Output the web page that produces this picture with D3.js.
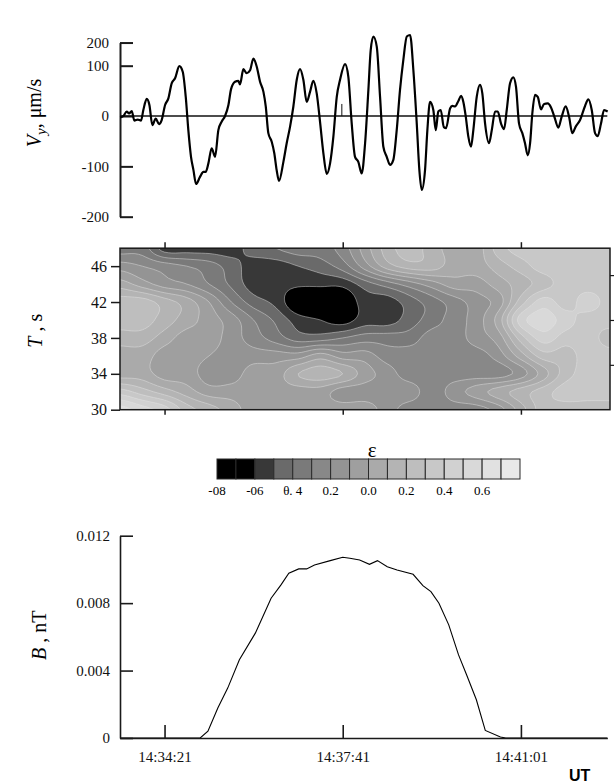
<!DOCTYPE html>
<html>
<head>
<meta charset="utf-8">
<script src="https://cdn.jsdelivr.net/npm/d3@7"></script>
<style>
  body { margin: 0; background: #fff; }
  .axis path, .axis line { stroke: #1a1a1a; }
  .axis text { fill: #111; }
</style>
</head>
<body>
<svg id="fig" width="615" height="783"></svg>
<script>
// time is in seconds relative to 14:34:21 UT
const tickTimes = [0, 200, 400];
const tickLabels = ['14:34:21', '14:37:41', '14:41:01'];

// --- Vy trace (µm/s)
const vyT = [-49.9, -46.2, -42.5, -39.8, -36.8, -33.9, -30.1, -26.4, -23.8, -20.0, -17.0, -13.7, -9.9, -6.2, -3.2,
  0.6, 4.3, 8.0, 11.8, 16.6, 20.4, 23.8, 26.7, 29.7, 32.4, 35.4, 39.8, 43.6, 46.2, 49.2, 52.9, 56.7, 60.4, 64.2,
  67.9, 71.7, 74.6, 79.1, 82.9, 84.7, 88.5, 92.2, 96.0, 99.7, 103.5, 107.2, 111.0, 113.6, 116.5, 120.3, 123.2,
  125.8, 128.5, 133.4, 137.1, 140.9, 144.6, 148.4, 152.1, 155.8, 159.6, 163.3, 167.0, 170.8, 174.5, 178.3, 182.1,
  185.8, 189.5, 193.3, 197.0, 202.6, 206.3, 210.1, 213.8, 217.5, 221.3, 225.1, 228.8, 231.4, 234.4, 238.2, 241.9,
  245.6, 249.4, 253.1, 256.8, 260.6, 264.3, 268.0, 271.9, 275.6, 279.3, 283.1, 286.0, 288.7, 292.4, 295.0, 298.0,
  301.7, 304.4, 307.3, 310.0, 313.5, 316.0, 320.5, 323.1, 326.1, 329.8, 332.8, 335.4, 338.1, 341.0, 344.0, 346.6,
  350.4, 354.1, 356.7, 359.8, 364.2, 367.3, 371.0, 374.0, 377.7, 381.1, 384.1, 387.8, 391.5, 394.5, 397.9, 401.6,
  404.6, 407.7, 410.3, 412.8, 415.9, 418.9, 422.6, 426.0, 430.1, 433.8, 437.5, 442.0, 445.8, 450.3, 454.0, 457.7,
  461.5, 466.4, 472.0, 475.7, 479.5, 483.2, 486.2, 489.9, 493.3, 496.3, 497.4];
const vyV = [-3, 0, 9, 5, 10, -9, -7, -9, 12, 34, 22, -18, -5, -16, -8,
  22, 35, 65, 75, 99, 88, 38, -28, -81, -107, -135, -121, -111, -111, -94, -64, -81, -28, -11,
  0, 22, 53, 68, 70, 63, 93, 85, 91, 114, 98, 68, 48, 19, -34, -51, -74,
  -107, -129, -91, -54, -21, 19, 72, 93, 72, 28, 48, 70, 45, -11, -74, -115,
  -94, -41, 38, 72, 103, 78, -15, -81, -91, -114, -54, 52, 131, 158, 138, 38,
  -61, -81, -97, -87, -28, 52, 111, 158, 161, 91, -15, -107, -147, -107, -28, 28,
  12, -28, 9, 12, -22, -24, 15, 20, 19, 30, 40, 28, -1, -41, -61, -28,
  38, 62, 45, -15, -54, -28, 9, 9, -15, -26, 12, 65, 77, 58, -15, -34,
  -54, -78, -54, 5, 42, 38, 13, 24, 25, 17, -1, -23, -1, 19, -1, -34,
  -21, -8, 20, 33, 12, -34, -40, -15, 12, 10, 9];
const vyTicks = [200, 100, 0, -100, -200];
const vyTopTickAt = 146;          // the original draws its "200" tick compressed near the top
const markT = 199, markV = 24;    // small reference mark at the zero line

// --- map eps(t, T): one row per period, one column per epsT
const epsT = [-50, -25, 0, 25, 50, 75, 100, 125, 150, 175, 200, 225, 250, 275, 300, 325, 350, 375, 400, 425, 450, 475, 500];
const epsP = [48, 46, 44, 42, 40, 38, 36, 34, 32, 30];
const epsRows = [
  [-0.35, -0.35, -0.55, -0.55, -0.55, -0.55, -0.45, -0.40, -0.35, -0.35, -0.25, -0.05, 0.15, 0.25, 0.15, 0.05, 0.05, 0.25, 0.35, 0.35, 0.35, 0.35, 0.35],
  [-0.15, -0.20, -0.25, -0.30, -0.35, -0.45, -0.55, -0.55, -0.50, -0.45, -0.35, -0.15, 0.05, 0.15, 0.15, 0.05, 0.05, 0.15, 0.25, 0.35, 0.35, 0.35, 0.35],
  [0.05, -0.05, -0.15, -0.20, -0.30, -0.42, -0.55, -0.56, -0.58, -0.58, -0.57, -0.45, -0.35, -0.25, -0.15, -0.05, -0.05, 0.05, 0.15, 0.25, 0.35, 0.35, 0.35],
  [0.25, 0.25, 0.15, 0.05, -0.10, -0.30, -0.45, -0.53, -0.70, -0.70, -0.70, -0.55, -0.55, -0.45, -0.35, -0.25, -0.15, -0.05, 0.25, 0.45, 0.35, 0.45, 0.35],
  [0.25, 0.25, 0.15, 0.05, -0.05, -0.15, -0.30, -0.42, -0.55, -0.60, -0.65, -0.55, -0.55, -0.45, -0.35, -0.25, -0.15, 0.05, 0.45, 0.55, 0.45, 0.35, 0.35],
  [0.15, 0.15, 0.05, -0.05, -0.05, -0.15, -0.25, -0.35, -0.45, -0.45, -0.40, -0.35, -0.35, -0.35, -0.25, -0.25, -0.15, -0.05, 0.25, 0.45, 0.35, 0.35, 0.25],
  [0.05, 0.05, -0.05, -0.05, -0.10, -0.15, -0.15, -0.15, -0.15, -0.05, -0.15, -0.15, -0.25, -0.25, -0.25, -0.25, -0.25, -0.15, 0.05, 0.25, 0.25, 0.35, 0.35],
  [0.05, 0.05, -0.05, -0.05, -0.15, -0.15, -0.05, -0.05, 0.10, 0.15, 0.10, -0.05, -0.15, -0.25, -0.25, -0.25, -0.25, -0.25, -0.15, 0.05, 0.25, 0.35, 0.35],
  [0.35, 0.25, 0.15, 0.05, -0.05, -0.05, -0.05, -0.05, -0.05, -0.05, -0.15, -0.15, -0.15, -0.15, -0.25, -0.15, -0.05, 0.05, 0.15, 0.25, 0.35, 0.35, 0.35],
  [0.65, 0.55, 0.45, 0.25, 0.15, 0.05, -0.05, -0.05, -0.05, -0.05, -0.05, -0.05, -0.15, -0.25, -0.25, -0.25, -0.25, -0.15, 0.05, 0.25, 0.25, 0.25, 0.25]
];
const epsLevels = [-0.8, -0.7, -0.6, -0.5, -0.4, -0.3, -0.2, -0.1, 0.0, 0.1, 0.2, 0.3, 0.4, 0.5, 0.6, 0.7];
const epsColors = ['#000', '#000', '#383838', '#6a6a6a', '#7a7a7a', '#888', '#949494', '#9f9f9f',
  '#aaa', '#b4b4b4', '#bebebe', '#c8c8c8', '#d1d1d1', '#d9d9d9', '#e1e1e1', '#e9e9e9'];
const epsLabelVals = [-0.8, -0.6, -0.4, -0.2, 0.0, 0.2, 0.4, 0.6];
const epsLabels = ['-08', '-06', 'θ. 4', '0.2', '0.0', '0.2', '0.4', '0.6'];
const periodTicks = [30, 34, 38, 42, 46];
const rightTicks = [35, 40, 45];

// --- B (nT)
const bT = [-50, 40, 48.7, 59.8, 70.9, 84, 101.9, 119.6, 130.7, 139.5, 150.6, 159.5, 168.3, 186, 200, 208, 219,
  230, 239, 250, 261, 279, 290, 299, 308, 319, 330, 339, 350, 360, 377, 383, 497];
const bV = [0, 0, 0.0004, 0.00178, 0.00296, 0.00464, 0.00622, 0.00829, 0.00908, 0.00977, 0.01003, 0.01003, 0.01026,
  0.01052, 0.01072, 0.01066, 0.01056, 0.0103, 0.01052, 0.01016, 0.00997, 0.00971, 0.00904, 0.00868, 0.00799,
  0.00671, 0.00493, 0.00375, 0.00227, 0.00045, 0.00006, 0, 0];
const bTicks = [0, 0.004, 0.008, 0.012];

const SERIF = '"Liberation Serif","Times New Roman",serif';
const svg = d3.select('#fig').style('font-family', SERIF);
const x = d3.scaleLinear().domain([-50, 500]).range([120, 610]);
const tEnd = 497; // traces and plain axes stop just short of the map frame
const noDomain = g => g.select('.domain').remove();
const axisText = (size) => g => g.attr('font-family', SERIF).attr('font-size', size);

/* ---------- top: Vy ---------- */
const yV = d3.scaleLinear().domain([-200, 100]).range([216.7, 65.7]);
const yVAxis = d3.scaleLinear().domain([-200, 100, 200]).range([yV(-200), yV(100), yV(vyTopTickAt)]);

svg.append('g').attr('class', 'axis').attr('transform', `translate(${x(-50)},0)`)
  .call(d3.axisLeft(yVAxis).tickValues(vyTicks).tickSizeInner(-13).tickSizeOuter(0).tickPadding(11)
    .tickFormat(d => String(d)))
  .call(axisText(15))
  .call(g => g.selectAll('path,line').attr('stroke-width', 2));

svg.append('line').attr('x1', x(-50)).attr('x2', x(tEnd)).attr('y1', yV(0)).attr('y2', yV(0))
  .attr('stroke', '#111').attr('stroke-width', 1.5);
svg.append('line').attr('x1', x(markT)).attr('x2', x(markT)).attr('y1', yV(0)).attr('y2', yV(markV))
  .attr('stroke', '#111').attr('stroke-width', 1);

svg.append('path').datum(d3.zip(vyT, vyV))
  .attr('fill', 'none').attr('stroke', '#000').attr('stroke-width', 2.2).attr('stroke-linejoin', 'round')
  .attr('d', d3.line().x(d => x(d[0])).y(d => yV(d[1])).curve(d3.curveMonotoneX));

const vlab = svg.append('text').attr('transform', `translate(41,${yV(6)}) rotate(-90)`)
  .attr('text-anchor', 'middle').attr('font-size', 20);
vlab.append('tspan').attr('font-style', 'italic').text('V');
vlab.append('tspan').attr('font-style', 'italic').attr('font-size', 15).attr('dy', 5).text('y');
vlab.append('tspan').attr('dy', -5).text(', μm/s');

/* ---------- middle: eps(t, T) map ---------- */
// Catmull-Rom refinement of the read grid, only so the filled contours come out rounded
function refine(rows, k) {
  const cr = (p0, p1, p2, p3, s) => 0.5 * (2 * p1 + (p2 - p0) * s + (2 * p0 - 5 * p1 + 4 * p2 - p3) * s * s
    + (3 * p1 - p0 - 3 * p2 + p3) * s * s * s);
  const line = a => {
    const out = [], n = a.length, at = i => a[Math.max(0, Math.min(n - 1, i))];
    for (let i = 0; i < n - 1; i++)
      for (let s = 0; s < k; s++) out.push(cr(at(i - 1), at(i), at(i + 1), at(i + 2), s / k));
    out.push(a[n - 1]);
    return out;
  };
  const wide = rows.map(line);
  const cols = wide[0].map((_, j) => line(wide.map(r => r[j])));
  return cols[0].map((_, i) => cols.map(c => c[i]));
}
const K = 6;
const fine = refine(epsRows, K);
const nx = fine[0].length, ny = fine.length;
const dt = (epsT[1] - epsT[0]) / K, dp = (epsP[1] - epsP[0]) / K;
const yT = d3.scaleLinear().domain([30, 48]).range([409.7, 248.2]);
const proj = d3.geoTransform({
  point(px, py) { this.stream.point(x(epsT[0] + (px - 0.5) * dt), yT(epsP[0] + (py - 0.5) * dp)); }
});
const cpath = d3.geoPath(proj);
const bands = d3.contours().size([nx, ny]).thresholds(epsLevels)(fine.flat());

svg.append('clipPath').attr('id', 'mapclip').append('rect')
  .attr('x', x(-50)).attr('y', yT(48)).attr('width', x(500) - x(-50)).attr('height', yT(30) - yT(48));
const map = svg.append('g').attr('clip-path', 'url(#mapclip)');
map.selectAll('path').data(bands).join('path')
  .attr('d', cpath)
  .attr('fill', (d, i) => epsColors[i])
  .attr('stroke', (d, i) => i > 1 ? '#e6e6e6' : 'none')
  .attr('stroke-width', 0.6).attr('stroke-opacity', 0.75);

svg.append('rect').attr('x', x(-50)).attr('y', yT(48)).attr('width', x(500) - x(-50)).attr('height', yT(30) - yT(48))
  .attr('fill', 'none').attr('stroke', '#1a1a1a').attr('stroke-width', 1.5);

svg.append('g').attr('class', 'axis').attr('transform', `translate(${x(-50)},0)`)
  .call(d3.axisLeft(yT).tickValues(periodTicks).tickSize(9).tickPadding(4))
  .call(axisText(16))
  .call(noDomain).call(g => g.selectAll('line').attr('stroke-width', 1.5));
svg.append('g').attr('class', 'axis').attr('transform', `translate(${x(500)},0)`)
  .call(d3.axisRight(yT).tickValues(rightTicks).tickSize(4).tickFormat(''))
  .call(noDomain).call(g => g.selectAll('line').attr('stroke-width', 1.2));
svg.append('g').attr('class', 'axis').attr('transform', `translate(0,${yT(48)})`)
  .call(d3.axisTop(x).tickValues(tickTimes).tickSize(6).tickFormat(''))
  .call(noDomain).call(g => g.selectAll('line').attr('stroke-width', 1.5));
svg.append('g').attr('class', 'axis').attr('transform', `translate(0,${yT(30)})`)
  .call(d3.axisBottom(x).tickValues(tickTimes).tickSize(5).tickFormat(''))
  .call(noDomain).call(g => g.selectAll('line').attr('stroke-width', 1.5));

const tlab = svg.append('text').attr('transform', `translate(42,${yT(38.8)}) rotate(-90)`)
  .attr('text-anchor', 'middle').attr('font-size', 20);
tlab.append('tspan').attr('font-style', 'italic').text('T');
tlab.append('tspan').text(' ,  s');

/* ---------- colour key ---------- */
const ex = d3.scaleLinear().domain([-0.8, 0.8]).range([217, 520]);
const key = svg.append('g');
key.selectAll('rect').data(epsLevels).join('rect')
  .attr('x', d => ex(d)).attr('y', 459).attr('width', ex(0.1) - ex(0)).attr('height', 20)
  .attr('fill', (d, i) => epsColors[i]).attr('stroke', '#2a2a2a').attr('stroke-width', 1);
key.selectAll('text.lab').data(epsLabelVals).join('text').attr('class', 'lab')
  .attr('x', d => ex(d)).attr('y', 495).attr('text-anchor', 'middle').attr('font-size', 13)
  .text((d, i) => epsLabels[i]);
key.append('text').attr('x', ex(0.02)).attr('y', 457).attr('text-anchor', 'middle').attr('font-size', 21).text('ε');

/* ---------- bottom: B ---------- */
const yB = d3.scaleLinear().domain([0, 0.012]).range([738, 535.7]);
const xB = d3.scaleLinear().domain([-50, tEnd]).range([x(-50), x(tEnd)]);

svg.append('path').datum(d3.zip(bT, bV))
  .attr('fill', 'none').attr('stroke', '#000').attr('stroke-width', 1.1)
  .attr('d', d3.line().x(d => xB(d[0])).y(d => yB(d[1])));

svg.append('g').attr('class', 'axis').attr('transform', `translate(${x(-50)},0)`)
  .call(d3.axisLeft(yB).tickValues(bTicks).tickSizeInner(-13).tickSizeOuter(0).tickPadding(10)
    .tickFormat(d => d === 0 ? '0' : d3.format('.3f')(d)))
  .call(axisText(15))
  .call(g => g.selectAll('path,line').attr('stroke-width', 1.6));
svg.append('g').attr('class', 'axis').attr('transform', `translate(0,${yB(0)})`)
  .call(d3.axisBottom(xB).tickValues(tickTimes).tickSizeInner(-13).tickSizeOuter(0).tickPadding(13)
    .tickFormat((d, i) => tickLabels[i]))
  .call(axisText(15))
  .call(g => g.selectAll('path,line').attr('stroke-width', 1.6));

const blab = svg.append('text').attr('transform', `translate(46,${yB(0.0061)}) rotate(-90)`)
  .attr('text-anchor', 'middle').attr('font-size', 20);
blab.append('tspan').attr('font-style', 'italic').text('B');
blab.append('tspan').text(' ,  nT');

svg.append('text').attr('x', 569).attr('y', 781)
  .attr('font-family', '"Liberation Sans",Arial,sans-serif').attr('font-weight', 'bold').attr('font-size', 16)
  .text('UT');
</script>
</body>
</html>
